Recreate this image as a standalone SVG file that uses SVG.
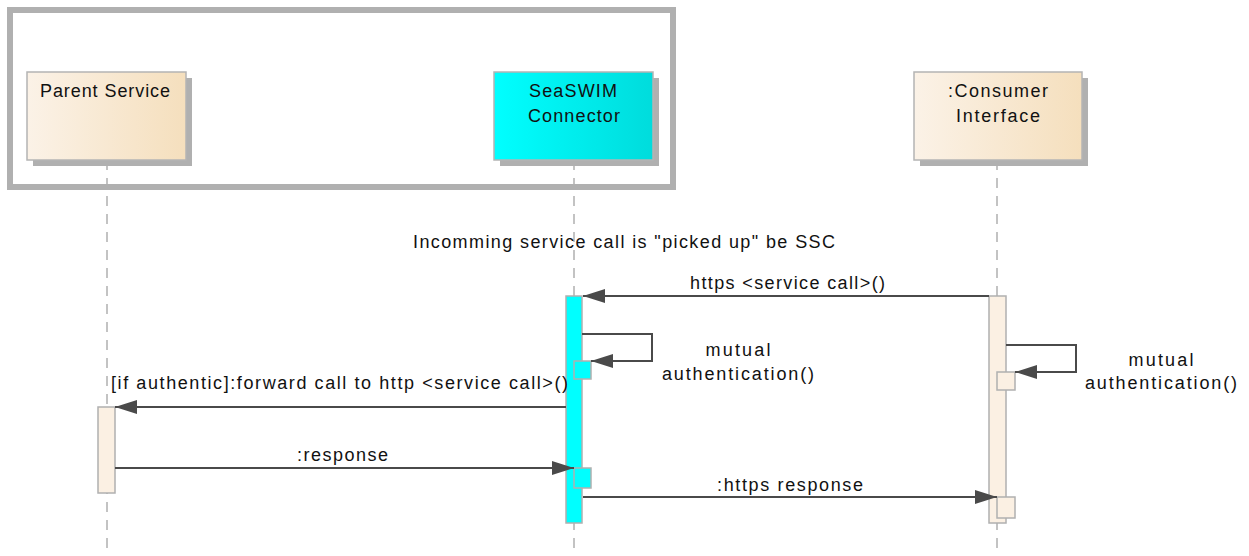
<svg xmlns="http://www.w3.org/2000/svg" width="1249" height="556" viewBox="0 0 1249 556">
<defs>
<linearGradient id="beige" x1="0" y1="0" x2="1" y2="0">
<stop offset="0" stop-color="#fbf2e7"/>
<stop offset="1" stop-color="#f5dfbd"/>
</linearGradient>
<linearGradient id="cyan" x1="0" y1="0" x2="1" y2="0">
<stop offset="0" stop-color="#00ffff"/>
<stop offset="1" stop-color="#00dcdc"/>
</linearGradient>
<marker id="arr" markerUnits="userSpaceOnUse" markerWidth="22" markerHeight="14" refX="22" refY="7" orient="auto">
<path d="M0,0 L22,7 L0,14 z" fill="#4a4a4a"/>
</marker>
<style>
text{font-family:"Liberation Sans",Arial,sans-serif;font-size:18px;fill:#111;}
.shadow{fill:#b0b0b0;}
.head{stroke:#b4b4b4;stroke-width:1.5;}
.life{stroke:#b0b0b0;stroke-width:1.5;stroke-dasharray:10,8;fill:none;}
.act{stroke:#b0b0b0;stroke-width:1.5;}
.msg{stroke:#4a4a4a;stroke-width:2;fill:none;marker-end:url(#arr);}
.ctr{text-anchor:middle;}
</style>
</defs>
<rect x="10" y="10" width="663" height="177" fill="#fff" stroke="#b0b0b0" stroke-width="6"/>
<g id="lifelines">
<line class="life" x1="107" y1="160" x2="107" y2="556"/>
<line class="life" x1="574" y1="160" x2="574" y2="556"/>
<line class="life" x1="997" y1="160" x2="997" y2="556"/>
</g>
<g id="parent-service">
<rect class="shadow" x="33" y="78" width="159" height="88"/>
<rect class="head" x="27" y="72" width="159" height="88" fill="url(#beige)"/>
<text x="105" y="97" class="ctr" textLength="130" lengthAdjust="spacing">Parent Service</text>
</g>
<g id="seaswim-connector">
<rect class="shadow" x="500" y="78" width="159" height="88"/>
<rect class="head" x="494" y="72" width="159" height="88" fill="url(#cyan)"/>
<text x="573" y="97" class="ctr" textLength="88" lengthAdjust="spacing">SeaSWIM</text>
<text x="574" y="122" class="ctr" textLength="92" lengthAdjust="spacing">Connector</text>
</g>
<g id="consumer-interface">
<rect class="shadow" x="920" y="78" width="168" height="88"/>
<rect class="head" x="914" y="72" width="168" height="88" fill="url(#beige)"/>
<text x="998" y="97" class="ctr" textLength="100" lengthAdjust="spacing">:Consumer</text>
<text x="998" y="122" class="ctr" textLength="84" lengthAdjust="spacing">Interface</text>
</g>
<g id="activations">
<rect class="act" x="566" y="296" width="16" height="227" fill="#00ffff"/>
<rect class="act" x="989" y="296" width="17" height="227" fill="#fbf0e3"/>
<rect class="act" x="98" y="407" width="17" height="86" fill="#fbf0e3"/>
<rect class="act" x="574" y="361" width="17" height="18" fill="#00ffff"/>
<rect class="act" x="574" y="468" width="17" height="20" fill="#00ffff"/>
<rect class="act" x="997" y="372" width="18" height="18" fill="#fbf0e3"/>
<rect class="act" x="997" y="497" width="18" height="21" fill="#fbf0e3"/>
</g>
<g id="connectors">
<path class="msg" d="M989,296 H583"/>
<path class="msg" d="M582,334 H652 V361 H591"/>
<path class="msg" d="M1006,345 H1076 V372 H1015"/>
<path class="msg" d="M566,407 H115"/>
<path class="msg" d="M115,468 H574"/>
<path class="msg" d="M583,497 H997"/>
</g>
<g id="labels">
<text x="413" y="248" textLength="422" lengthAdjust="spacing">Incomming service call is "picked up" be SSC</text>
<text x="690" y="289" textLength="195" lengthAdjust="spacing">https &lt;service call&gt;()</text>
<text x="738" y="356" class="ctr" textLength="65" lengthAdjust="spacing">mutual</text>
<text x="738" y="380" class="ctr" textLength="152" lengthAdjust="spacing">authentication()</text>
<text x="1161" y="366" class="ctr" textLength="65" lengthAdjust="spacing">mutual</text>
<text x="1161" y="389" class="ctr" textLength="152" lengthAdjust="spacing">authentication()</text>
<text x="111" y="389" textLength="457" lengthAdjust="spacing">[if authentic]:forward call to http &lt;service call&gt;()</text>
<text x="297" y="461" textLength="91" lengthAdjust="spacing">:response</text>
<text x="717" y="491" textLength="146" lengthAdjust="spacing">:https response</text>
</g>
</svg>
